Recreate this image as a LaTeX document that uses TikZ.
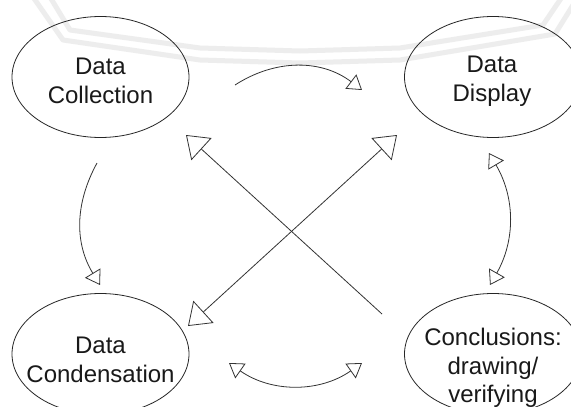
\documentclass[tikz,border=0pt]{standalone}
\usepackage{fontspec}
\setmainfont{Liberation Sans}
\usetikzlibrary{arrows.meta,shapes.geometric}
\begin{document}
\begin{tikzpicture}[x=1pt,y=-1pt,
  ell/.style={draw=black!85, line width=0.8pt, ellipse, minimum width=177pt, minimum height=121pt, inner sep=0pt},
  lbl/.style={align=center, font=\fontsize{24}{28.5}\selectfont, text=black!90, inner sep=0pt},
  wm/.style={line width=5pt, draw=black!7, line join=round},
  carrow/.style={draw=black!80, line width=0.8pt, -{Triangle[open,length=14pt,width=18pt]}},
  cboth/.style={draw=black!80, line width=0.8pt, {Triangle[open,length=14pt,width=18pt]}-{Triangle[open,length=14pt,width=18pt]}},
  sarrow/.style={draw=black!80, line width=0.8pt, -{Triangle[open,length=21pt,width=30pt]}},
  sboth/.style={draw=black!80, line width=0.8pt, {Triangle[open,length=21pt,width=30pt]}-{Triangle[open,length=21pt,width=30pt]}}]
\useasboundingbox (0,0) rectangle (571,407);
\fill[white] (0,0) rectangle (571,407);
% watermark
\draw[wm] (50,-3) -- (70,30) -- (200,48) -- (300,51) -- (400,48) -- (543,25) -- (562,-3);
\draw[wm] (33,-3) -- (63,40) -- (200,60) -- (300,63) -- (400,60) -- (555,34) -- (578,-3);
% ellipses
\node[ell] (coll) at (100.5,77) {};
\node[ell] (disp) at (493,77) {};
\node[ell] (cond) at (100.5,354) {};
\node[ell] (conc) at (493,354) {};
% labels
\node[lbl] (tcoll) at (100.5,81) {Data\\Collection};
\node[lbl] (tdisp) at (492,81) {Data\\Display};
\node[lbl] (tcond) at (100.5,360) {Data\\Condensation};
\node[lbl] (tconc) at (493,368) {Conclusions:\\drawing/\\verifying};
% connector end points
\coordinate (a1) at (235,85);
\coordinate (a2) at (362,90);
\coordinate (b1) at (97,163);
\coordinate (b2) at (100,285);
\coordinate (c1) at (489,153);
\coordinate (c2) at (490,285);
\coordinate (d1) at (229,363);
\coordinate (d2) at (362,363);
\coordinate (e1) at (382,314);
\coordinate (e2) at (186,135);
\coordinate (f1) at (188,326);
\coordinate (f2) at (397,135);
% connectors
\draw[carrow] (a1) to[bend left=35] (a2);
\draw[carrow] (b1) to[bend right=30] (b2);
\draw[cboth] (c1) to[bend left=30] (c2);
\draw[cboth] (d1) to[bend right=35] (d2);
\draw[sarrow] (e1) -- (e2);
\draw[sboth] (f1) -- (f2);
\end{tikzpicture}
\end{document}
